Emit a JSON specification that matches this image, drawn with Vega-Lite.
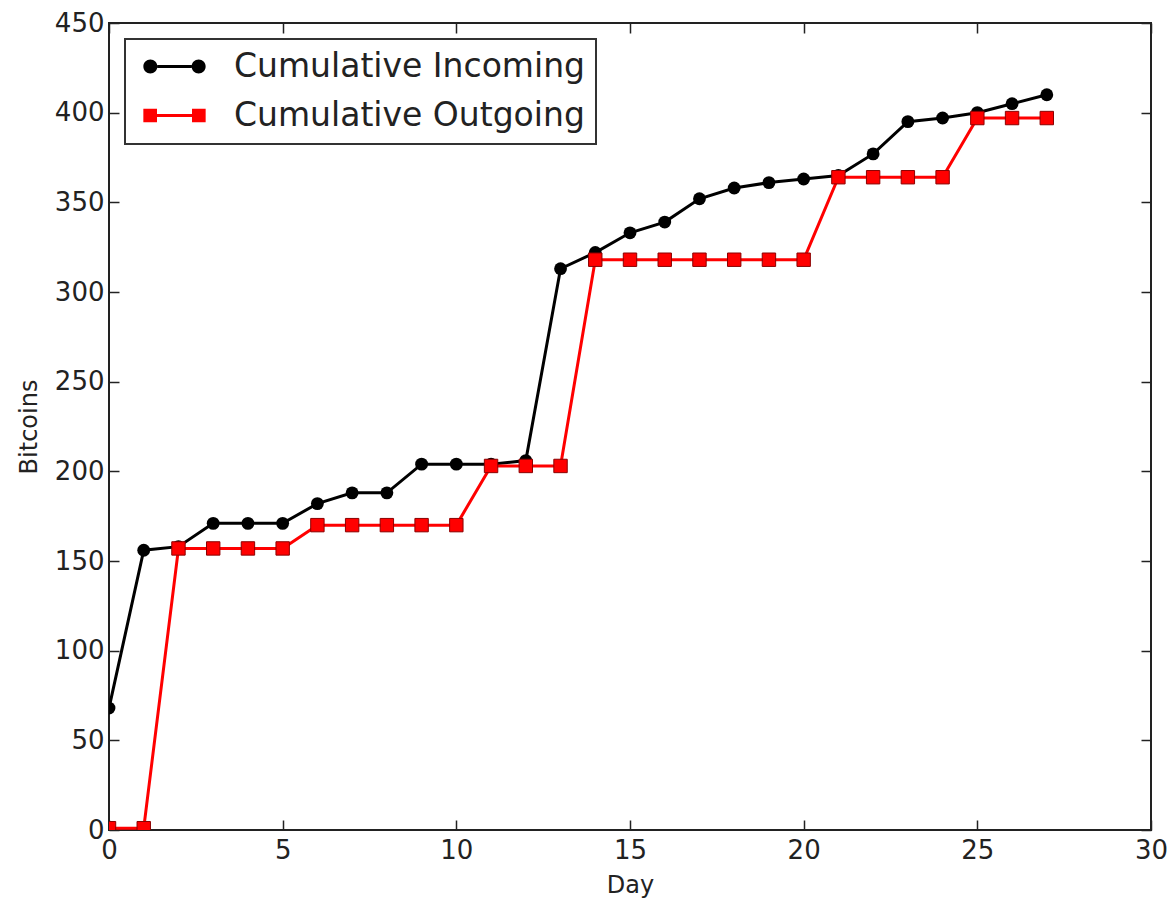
{
  "$schema": "https://vega.github.io/schema/vega-lite/v6.json",
  "width": 1042,
  "height": 807,
  "autosize": {"type": "none"},
  "padding": {"left": 109, "top": 23, "right": 25, "bottom": 70},
  "background": "white",
  "config": {
    "view": {"stroke": "#222", "strokeWidth": 2},
    "axis": {
      "grid": false,
      "domain": false,
      "labelFlush": false,
      "tickColor": "#222",
      "tickWidth": 1.5,
      "tickSize": -10,
      "labelFont": "DejaVu Sans",
      "labelFontSize": 26,
      "labelColor": "#222",
      "titleFont": "DejaVu Sans",
      "titleFontSize": 24,
      "titleColor": "#222",
      "titleFontWeight": "normal"
    },
    "legend": {
      "orient": "none",
      "legendX": 16,
      "legendY": 16,
      "strokeColor": "#333",
      "strokeWidth": 2,
      "fillColor": "white",
      "padding": 11,
      "cornerRadius": 0,
      "labelFont": "DejaVu Sans",
      "labelFontSize": 33,
      "labelColor": "#222",
      "symbolSize": 196,
      "symbolOffset": 22,
      "labelOffset": 43,
      "rowPadding": 15,
      "labelLimit": 600
    }
  },
  "data": {
    "values": [
      {"day": 0, "series": "Cumulative Incoming", "value": 68},
      {"day": 1, "series": "Cumulative Incoming", "value": 156},
      {"day": 2, "series": "Cumulative Incoming", "value": 158},
      {"day": 3, "series": "Cumulative Incoming", "value": 171},
      {"day": 4, "series": "Cumulative Incoming", "value": 171},
      {"day": 5, "series": "Cumulative Incoming", "value": 171},
      {"day": 6, "series": "Cumulative Incoming", "value": 182},
      {"day": 7, "series": "Cumulative Incoming", "value": 188},
      {"day": 8, "series": "Cumulative Incoming", "value": 188},
      {"day": 9, "series": "Cumulative Incoming", "value": 204},
      {"day": 10, "series": "Cumulative Incoming", "value": 204},
      {"day": 11, "series": "Cumulative Incoming", "value": 204},
      {"day": 12, "series": "Cumulative Incoming", "value": 206},
      {"day": 13, "series": "Cumulative Incoming", "value": 313},
      {"day": 14, "series": "Cumulative Incoming", "value": 322},
      {"day": 15, "series": "Cumulative Incoming", "value": 333},
      {"day": 16, "series": "Cumulative Incoming", "value": 339},
      {"day": 17, "series": "Cumulative Incoming", "value": 352},
      {"day": 18, "series": "Cumulative Incoming", "value": 358},
      {"day": 19, "series": "Cumulative Incoming", "value": 361},
      {"day": 20, "series": "Cumulative Incoming", "value": 363},
      {"day": 21, "series": "Cumulative Incoming", "value": 365},
      {"day": 22, "series": "Cumulative Incoming", "value": 377},
      {"day": 23, "series": "Cumulative Incoming", "value": 395},
      {"day": 24, "series": "Cumulative Incoming", "value": 397},
      {"day": 25, "series": "Cumulative Incoming", "value": 400},
      {"day": 26, "series": "Cumulative Incoming", "value": 405},
      {"day": 27, "series": "Cumulative Incoming", "value": 410},
      {"day": 0, "series": "Cumulative Outgoing", "value": 1},
      {"day": 1, "series": "Cumulative Outgoing", "value": 1},
      {"day": 2, "series": "Cumulative Outgoing", "value": 157},
      {"day": 3, "series": "Cumulative Outgoing", "value": 157},
      {"day": 4, "series": "Cumulative Outgoing", "value": 157},
      {"day": 5, "series": "Cumulative Outgoing", "value": 157},
      {"day": 6, "series": "Cumulative Outgoing", "value": 170},
      {"day": 7, "series": "Cumulative Outgoing", "value": 170},
      {"day": 8, "series": "Cumulative Outgoing", "value": 170},
      {"day": 9, "series": "Cumulative Outgoing", "value": 170},
      {"day": 10, "series": "Cumulative Outgoing", "value": 170},
      {"day": 11, "series": "Cumulative Outgoing", "value": 203},
      {"day": 12, "series": "Cumulative Outgoing", "value": 203},
      {"day": 13, "series": "Cumulative Outgoing", "value": 203},
      {"day": 14, "series": "Cumulative Outgoing", "value": 318},
      {"day": 15, "series": "Cumulative Outgoing", "value": 318},
      {"day": 16, "series": "Cumulative Outgoing", "value": 318},
      {"day": 17, "series": "Cumulative Outgoing", "value": 318},
      {"day": 18, "series": "Cumulative Outgoing", "value": 318},
      {"day": 19, "series": "Cumulative Outgoing", "value": 318},
      {"day": 20, "series": "Cumulative Outgoing", "value": 318},
      {"day": 21, "series": "Cumulative Outgoing", "value": 364},
      {"day": 22, "series": "Cumulative Outgoing", "value": 364},
      {"day": 23, "series": "Cumulative Outgoing", "value": 364},
      {"day": 24, "series": "Cumulative Outgoing", "value": 364},
      {"day": 25, "series": "Cumulative Outgoing", "value": 397},
      {"day": 26, "series": "Cumulative Outgoing", "value": 397},
      {"day": 27, "series": "Cumulative Outgoing", "value": 397}
    ]
  },
  "layer": [
    {
      "transform": [{"filter": "datum.series === 'Cumulative Incoming'"}],
      "mark": {"type": "line", "strokeWidth": 3, "clip": true, "point": {"filled": true, "shape": "circle", "size": 165, "clip": true}},
      "encoding": {
        "x": {"field": "day", "type": "quantitative", "scale": {"domain": [0, 30], "nice": false},
              "axis": {"orient": "bottom", "values": [0, 5, 10, 15, 20, 25, 30], "title": "Day", "labelPadding": 17, "titlePadding": 10}},
        "y": {"field": "value", "type": "quantitative", "scale": {"domain": [0, 450], "nice": false},
              "axis": {"orient": "left", "values": [0, 50, 100, 150, 200, 250, 300, 350, 400, 450], "title": "Bitcoins", "labelPadding": 15, "titlePadding": 13}},
        "color": {
          "field": "series", "type": "nominal",
          "scale": {"domain": ["Cumulative Incoming", "Cumulative Outgoing"], "range": ["#000000", "#ff0000"]},
          "legend": {
            "title": null,
            "encode": {
              "symbols": {
                "update": {
                  "shape": {"signal": "datum.value === 'Cumulative Incoming' ? 'M-4.45,0A1,1 0 1,1 -2.45,0A1,1 0 1,1 -4.45,0Z M2.45,0A1,1 0 1,1 4.45,0A1,1 0 1,1 2.45,0Z M-2.45,-0.22L2.45,-0.22L2.45,0.22L-2.45,0.22Z' : 'M-4.45,-0.98L-2.5,-0.98L-2.5,0.98L-4.45,0.98Z M2.5,-0.98L4.45,-0.98L4.45,0.98L2.5,0.98Z M-2.5,-0.22L2.5,-0.22L2.5,0.22L-2.5,0.22Z'"},
                  "fill": {"signal": "datum.value === 'Cumulative Incoming' ? '#000000' : '#ff0000'"},
                  "stroke": {"signal": "datum.value === 'Cumulative Incoming' ? '#000000' : '#ff0000'"},
                  "strokeWidth": {"value": 0},
                  "opacity": {"value": 1},
                  "fillOpacity": {"value": 1}
                }
              }
            }
          }
        }
      }
    },
    {
      "transform": [{"filter": "datum.series === 'Cumulative Outgoing'"}],
      "mark": {"type": "line", "strokeWidth": 3, "clip": true, "point": {"filled": true, "shape": "square", "size": 180, "stroke": "#8b0000", "strokeWidth": 1, "clip": true}},
      "encoding": {
        "x": {"field": "day", "type": "quantitative",
              "axis": {"orient": "top", "values": [0, 5, 10, 15, 20, 25, 30], "labels": false, "title": null}},
        "y": {"field": "value", "type": "quantitative",
              "axis": {"orient": "right", "values": [0, 50, 100, 150, 200, 250, 300, 350, 400, 450], "labels": false, "title": null}},
        "color": {"field": "series", "type": "nominal"}
      }
    }
  ],
  "resolve": {"axis": {"x": "independent", "y": "independent"}}
}
